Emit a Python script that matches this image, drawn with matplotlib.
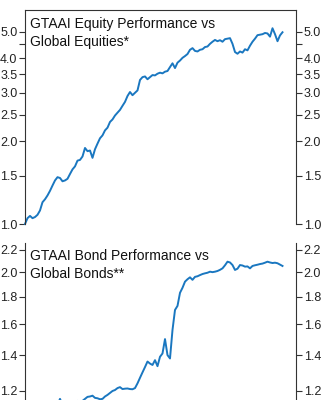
import numpy as np
import matplotlib
matplotlib.use("Agg")
from matplotlib import pyplot as plt
from matplotlib.ticker import FixedLocator, FixedFormatter, NullLocator

plt.rcParams["font.family"] = ["Liberation Sans", "DejaVu Sans"]

# monthly cumulative relative performance, both series start at 1.0
equity = [1.00, 1.05, 1.07, 1.05, 1.06, 1.08, 1.12, 1.20, 1.23, 1.27,
          1.32, 1.38, 1.44, 1.48, 1.47, 1.43, 1.44, 1.46, 1.52, 1.58,
          1.62, 1.70, 1.71, 1.76, 1.89, 1.84, 1.85, 1.74, 1.87, 1.96,
          2.05, 2.10, 2.19, 2.24, 2.35, 2.40, 2.48, 2.54, 2.60, 2.69,
          2.78, 2.92, 3.02, 2.94, 3.00, 3.06, 3.34, 3.42, 3.44, 3.36,
          3.42, 3.48, 3.47, 3.52, 3.55, 3.53, 3.58, 3.60, 3.72, 3.84,
          3.69, 3.86, 3.93, 4.02, 4.08, 4.15, 4.30, 4.36, 4.26, 4.24,
          4.30, 4.32, 4.40, 4.42, 4.52, 4.60, 4.67, 4.62, 4.66, 4.60,
          4.70, 4.72, 4.74, 4.52, 4.22, 4.16, 4.24, 4.20, 4.32, 4.28,
          4.45, 4.60, 4.72, 4.86, 4.88, 4.90, 4.95, 4.93, 4.80, 5.15,
          4.90, 4.62, 4.85, 4.98]

bonds = [1.00, 1.02, 1.03, 1.05, 1.04, 1.06, 1.08, 1.07, 1.09, 1.10,
         1.10, 1.12, 1.11, 1.13, 1.16, 1.13, 1.12, 1.13, 1.14, 1.13,
         1.14, 1.15, 1.14, 1.15, 1.16, 1.17, 1.172, 1.176, 1.165, 1.163,
         1.158, 1.16, 1.172, 1.18, 1.19, 1.20, 1.205, 1.215, 1.22, 1.21,
         1.212, 1.213, 1.21, 1.209, 1.215, 1.24, 1.27, 1.30, 1.33, 1.362,
         1.35, 1.342, 1.37, 1.335, 1.39, 1.41, 1.50, 1.40, 1.38, 1.56,
         1.70, 1.73, 1.83, 1.87, 1.92, 1.94, 1.956, 1.935, 1.96, 1.965,
         1.975, 1.984, 1.99, 1.995, 2.004, 2.00, 2.004, 2.01, 2.02, 2.033,
         2.06, 2.092, 2.085, 2.062, 2.019, 2.03, 2.062, 2.058, 2.048, 2.05,
         2.033, 2.054, 2.06, 2.065, 2.071, 2.075, 2.083, 2.092, 2.085, 2.08,
         2.083, 2.078, 2.066, 2.054]

equity_ticks = [1.0, 1.5, 2.0, 2.5, 3.0, 3.5, 4.0, 4.5, 5.0]
equity_labels = ["1.0", "1.5", "2.0", "2.5", "3.0", "3.5", "4.0", "", "5.0"]
bond_ticks = [1.2, 1.4, 1.6, 1.8, 2.0, 2.2]
bond_labels = ["1.2", "1.4", "1.6", "1.8", "2.0", "2.2"]

line_color = "#1a77c0"
axis_color = "#333333"

fig = plt.figure(figsize=(3.24, 4.0), dpi=100)
ax1 = fig.add_axes([25 / 324, 1 - 224 / 400, 271 / 324, 214 / 400])
ax2 = fig.add_axes([25 / 324, 1 - 433.4 / 400, 271 / 324, 190.4 / 400])


def style_axis(ax, ticks, labels, ymin, ymax):
    ax.set_yscale("log")
    ax.set_ylim(ymin, ymax)
    ax.set_xlim(0, 108.4)
    ax.yaxis.set_major_locator(FixedLocator(ticks))
    ax.yaxis.set_major_formatter(FixedFormatter(labels))
    ax.yaxis.set_minor_locator(NullLocator())
    ax.tick_params(axis="y", which="major", direction="out", length=4,
                   width=0.8, color=axis_color, labelsize=9, pad=1.5,
                   left=True, right=True, labelleft=True, labelright=True,
                   labelcolor="#222222")
    ax.tick_params(axis="x", bottom=False, labelbottom=False)
    ax.spines["bottom"].set_visible(False)
    for side in ["left", "right", "top"]:
        ax.spines[side].set_color(axis_color)
        ax.spines[side].set_linewidth(0.8)


style_axis(ax1, equity_ticks, equity_labels, 1.0, 6.0)
style_axis(ax2, bond_ticks, bond_labels, 1.0, 2.267)
ax2.spines["top"].set_visible(False)

ax1.plot(np.arange(len(equity)), equity, color=line_color, linewidth=1.4,
         clip_on=False)
ax2.plot(np.arange(len(bonds)), bonds, color=line_color, linewidth=1.4)

ax1.text(0.018, 0.968, "GTAAI Equity Performance vs\nGlobal Equities*",
         transform=ax1.transAxes, ha="left", va="top", fontsize=10,
         linespacing=1.35, color="#111111")
ax2.text(0.018, 0.97, "GTAAI Bond Performance vs\nGlobal Bonds**",
         transform=ax2.transAxes, ha="left", va="top", fontsize=10,
         linespacing=1.35, color="#111111")

fig.savefig("out.png", dpi=100)
